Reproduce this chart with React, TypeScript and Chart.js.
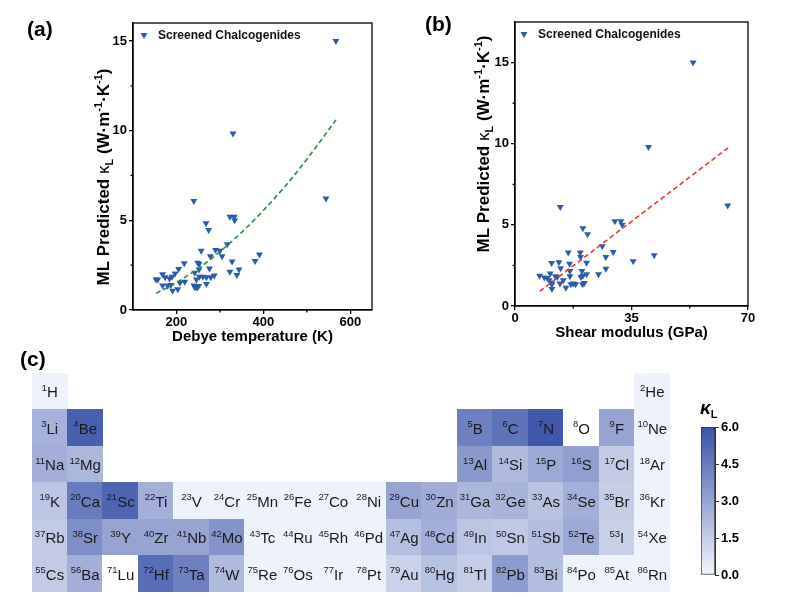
import React, { useEffect, useRef } from 'react';
import { Chart, registerables } from 'chart.js';
Chart.register(...registerables);

const FONT = '"Liberation Sans", Arial, Helvetica, sans-serif';

// ---------- Panel (a): kappa vs Debye temperature ----------
const debyeTemp = [567, 330, 544, 240, 268, 274, 323, 333, 334, 317, 257, 290, 300, 305, 278, 328, 218, 249, 252, 276, 344, 381, 391, 323, 339, 205, 197, 168, 153, 157, 174, 184, 190, 208, 219, 242, 246, 253, 261, 269, 279, 287, 252, 168, 180, 187, 191, 203, 240, 246, 251, 248, 243, 269];
const kappaVsDebye = [15.0, 9.84, 6.22, 6.07, 4.83, 4.46, 5.2, 5.2, 5.0, 3.66, 3.3, 3.34, 3.3, 3.0, 3.0, 2.7, 2.6, 2.64, 2.56, 2.32, 2.26, 2.73, 3.1, 2.13, 1.95, 2.28, 2.04, 2.0, 1.7, 1.7, 1.82, 1.76, 1.86, 1.52, 1.58, 2.08, 1.7, 1.86, 1.86, 1.82, 1.82, 1.93, 2.26, 1.37, 1.35, 1.39, 1.08, 1.15, 1.37, 1.34, 1.34, 1.26, 1.26, 1.45];
const debyeFitX = [153, 200, 250, 300, 350, 400, 450, 500, 567];
const debyeFitY = [0.93, 1.53, 2.31, 3.25, 4.33, 5.55, 6.9, 8.4, 10.6];
const debyeTicksX = [200, 400, 600];
const debyeMinorX = [300, 500];

// ---------- Panel (b): kappa vs shear modulus ----------
const shearMod = [53.5, 40.1, 63.9, 13.6, 20.4, 21.8, 30, 31.8, 32.2, 26.2, 16, 19.6, 29.5, 27.3, 19.7, 35.5, 41.8, 11, 13.2, 16.4, 21.5, 13.7, 27.3, 20.1, 16.5, 25.1, 21.5, 7.4, 8.8, 9.7, 10.6, 12.1, 12.7, 16.5, 19.8, 20.4, 14.5, 10.9, 11.1, 13.5, 16.8, 17.5, 18.2, 20.3, 20.8, 11.1, 15.3, 10.3];
const kappaVsShear = [15.0, 9.8, 6.2, 6.1, 4.79, 4.42, 5.22, 5.22, 5.0, 3.68, 3.29, 3.29, 3.33, 3.02, 3.02, 2.75, 3.12, 2.65, 2.69, 2.61, 2.67, 2.32, 2.3, 2.16, 2.16, 1.95, 1.95, 1.87, 1.75, 1.73, 2.0, 1.83, 1.79, 1.83, 1.79, 1.87, 1.58, 1.42, 1.34, 1.38, 1.34, 1.38, 1.34, 1.34, 1.42, 1.05, 1.13, 1.58];
const shearFitX = [7.4, 64];
const shearFitY = [0.9, 9.74];
const shearTicksX = [0, 35, 70];
const shearMinorX = [17.5, 52.5];

const kappaTicksY = [0, 5, 10, 15];
const kappaMinorY = [2.5, 7.5, 12.5];

// ---------- Panel (c): periodic table ----------
const elementSymbols = ['H', 'He', 'Li', 'Be', 'B', 'C', 'N', 'O', 'F', 'Ne', 'Na', 'Mg', 'Al', 'Si', 'P', 'S', 'Cl', 'Ar', 'K', 'Ca', 'Sc', 'Ti', 'V', 'Cr', 'Mn', 'Fe', 'Co', 'Ni', 'Cu', 'Zn', 'Ga', 'Ge', 'As', 'Se', 'Br', 'Kr', 'Rb', 'Sr', 'Y', 'Zr', 'Nb', 'Mo', 'Tc', 'Ru', 'Rh', 'Pd', 'Ag', 'Cd', 'In', 'Sn', 'Sb', 'Te', 'I', 'Xe', 'Cs', 'Ba', 'Lu', 'Hf', 'Ta', 'W', 'Re', 'Os', 'Ir', 'Pt', 'Au', 'Hg', 'Tl', 'Pb', 'Bi', 'Po', 'At', 'Rn'];
const atomicNumbers = [1, 2, 3, 4, 5, 6, 7, 8, 9, 10, 11, 12, 13, 14, 15, 16, 17, 18, 19, 20, 21, 22, 23, 24, 25, 26, 27, 28, 29, 30, 31, 32, 33, 34, 35, 36, 37, 38, 39, 40, 41, 42, 43, 44, 45, 46, 47, 48, 49, 50, 51, 52, 53, 54, 55, 56, 71, 72, 73, 74, 75, 76, 77, 78, 79, 80, 81, 82, 83, 84, 85, 86];
const elementGroups = [1, 18, 1, 2, 13, 14, 15, 16, 17, 18, 1, 2, 13, 14, 15, 16, 17, 18, 1, 2, 3, 4, 5, 6, 7, 8, 9, 10, 11, 12, 13, 14, 15, 16, 17, 18, 1, 2, 3, 4, 5, 6, 7, 8, 9, 10, 11, 12, 13, 14, 15, 16, 17, 18, 1, 2, 3, 4, 5, 6, 7, 8, 9, 10, 11, 12, 13, 14, 15, 16, 17, 18];
const elementPeriods = [1, 1, 2, 2, 2, 2, 2, 2, 2, 2, 3, 3, 3, 3, 3, 3, 3, 3, 4, 4, 4, 4, 4, 4, 4, 4, 4, 4, 4, 4, 4, 4, 4, 4, 4, 4, 5, 5, 5, 5, 5, 5, 5, 5, 5, 5, 5, 5, 5, 5, 5, 5, 5, 5, 6, 6, 6, 6, 6, 6, 6, 6, 6, 6, 6, 6, 6, 6, 6, 6, 6, 6];
const elementKappa: (number | null)[] = [0.15, 0.15, 2.5, 5.5, 4.3, 4.8, 5.8, null, 3.0, 0.15, 2.6, 2.3, 3.4, 2.2, 2.8, 3.2, 1.6, 0.15, 1.8, 4.5, 5.3, 2.6, 0.15, 0.15, 0.15, 0.15, 0.15, 0.15, 3.0, 2.7, 2.3, 2.4, 1.9, 2.6, 1.5, 0.15, 1.6, 3.8, 3.0, 3.0, 3.0, 3.6, 0.15, 0.15, 0.15, 0.15, 2.0, 2.6, 1.8, 1.7, 2.1, 2.8, 1.4, 0.15, 1.6, 2.6, null, 5.0, 4.3, 2.2, 0.15, 0.15, 0.15, 0.15, 1.3, 1.9, 1.5, 3.3, 2.1, 0.15, 0.15, 0.15];
const colorbarTicks = [0, 1.5, 3, 4.5, 6];
const colorbarRange = [0, 6];
const cmapLow = [243, 246, 252];
const cmapHigh = [58, 82, 168];

const POINT_BLUE = '#2a5cae';

function kappaColor(v: number | null) {
  if (v === null) return '#ffffff';
  const t = Math.max(0, Math.min(1, (v - colorbarRange[0]) / (colorbarRange[1] - colorbarRange[0])));
  const c = cmapLow.map((lo, i) => Math.round(lo + (cmapHigh[i] - lo) * t));
  return `rgb(${c[0]},${c[1]},${c[2]})`;
}

type Seg = { t: string; size: number; dy?: number; style?: string };
function drawRich(ctx: CanvasRenderingContext2D, segs: Seg[], cx: number, cy: number, rot: number, mainSize: number) {
  ctx.save();
  ctx.translate(cx, cy);
  ctx.rotate(rot);
  ctx.textAlign = 'left';
  ctx.textBaseline = 'alphabetic';
  let total = 0;
  const widths = segs.map((s) => {
    ctx.font = `${s.style ?? 'bold'} ${s.size}px ${FONT}`;
    const w = ctx.measureText(s.t).width;
    total += w;
    return w;
  });
  let x = -total / 2;
  const base = mainSize * 0.36;
  segs.forEach((s, i) => {
    ctx.font = `${s.style ?? 'bold'} ${s.size}px ${FONT}`;
    ctx.fillText(s.t, x, base + (s.dy ?? 0));
    x += widths[i];
  });
  ctx.restore();
}

function drawDownTriangle(ctx: CanvasRenderingContext2D, x: number, y: number, r: number) {
  const w = r * Math.sqrt(3) / 2;
  ctx.beginPath();
  ctx.moveTo(x - w, y - r / 2);
  ctx.lineTo(x + w, y - r / 2);
  ctx.lineTo(x, y + r);
  ctx.closePath();
  ctx.fill();
}

const yTitleSegs: Seg[] = [
  { t: 'ML Predicted ', size: 17 },
  { t: 'κ', size: 17, style: 'normal' },
  { t: 'L', size: 11, dy: 4 },
  { t: ' (W·m', size: 17 },
  { t: '-1', size: 11, dy: -7 },
  { t: '·K', size: 17 },
  { t: '-1', size: 11, dy: -7 },
  { t: ')', size: 17 },
];

const panelPlugin = {
  id: 'panelDecor',
  afterDraw(chart: any, _args: any, opts: any) {
    const { ctx, chartArea: ca, scales } = chart;
    ctx.save();
    ctx.strokeStyle = '#000';
    ctx.lineWidth = 1.3;
    ctx.strokeRect(ca.left, ca.top, ca.right - ca.left, ca.bottom - ca.top);
    ctx.beginPath();
    (opts.minorX || []).forEach((v: number) => {
      const px = scales.x.getPixelForValue(v);
      ctx.moveTo(px, ca.bottom);
      ctx.lineTo(px, ca.bottom + 2.5);
    });
    (opts.minorY || []).forEach((v: number) => {
      const py = scales.y.getPixelForValue(v);
      ctx.moveTo(ca.left, py);
      ctx.lineTo(ca.left - 2.5, py);
    });
    ctx.stroke();
    // legend
    ctx.fillStyle = POINT_BLUE;
    drawDownTriangle(ctx, ca.left + opts.legendDx, ca.top + 12, 4);
    ctx.fillStyle = '#111';
    ctx.font = `bold 12px ${FONT}`;
    ctx.textBaseline = 'middle';
    ctx.textAlign = 'left';
    ctx.fillText('Screened Chalcogenides', ca.left + opts.legendDx + 14, ca.top + 13);
    // panel letter
    ctx.fillStyle = '#000';
    ctx.font = `bold 21px ${FONT}`;
    ctx.fillText(opts.letter, opts.letterX, opts.letterY);
    // x title
    ctx.textAlign = 'center';
    ctx.font = `bold 15px ${FONT}`;
    ctx.fillText(opts.xTitle, (ca.left + ca.right) / 2, ca.bottom + 27);
    ctx.restore();
    ctx.fillStyle = '#000';
    drawRich(ctx, yTitleSegs, opts.yTitleX, opts.yTitleY, -Math.PI / 2, 17);
  },
};

function scatterConfig(xs: number[], ys: number[], fx: number[], fy: number[], lineColor: string, xMin: number, xMax: number, yMax: number, xTicks: number[], plugOpts: any, pad: any, yWidth: number, xHeight: number) {
  const tickFont = { family: FONT, size: 13, weight: 'bold' as const };
  return {
    type: 'scatter' as const,
    data: {
      datasets: [
        {
          data: fx.map((x, i) => ({ x, y: fy[i] })),
          showLine: true,
          borderColor: lineColor,
          borderWidth: 1.6,
          borderDash: [5, 3],
          pointRadius: 0,
          tension: 0.4,
          cubicInterpolationMode: 'monotone' as const,
          order: 0,
        },
        {
          data: xs.map((x, i) => ({ x, y: ys[i] })),
          pointStyle: 'triangle',
          rotation: 180,
          pointRadius: 4,
          backgroundColor: POINT_BLUE,
          borderWidth: 0,
          order: 1,
        },
      ],
    },
    options: {
      animation: false as const,
      responsive: false,
      layout: { padding: pad },
      plugins: { legend: { display: false }, tooltip: { enabled: false }, panelDecor: plugOpts },
      scales: {
        x: {
          type: 'linear' as const,
          min: xMin,
          max: xMax,
          afterBuildTicks: (s: any) => { s.ticks = xTicks.map((v) => ({ value: v })); },
          afterFit: (s: any) => { s.height = xHeight; },
          ticks: { font: tickFont, color: '#000', padding: 1, maxRotation: 0, autoSkip: false },
          grid: { display: true, drawOnChartArea: false, drawTicks: true, tickLength: 4, color: '#000', lineWidth: 1.3 },
          border: { display: true, color: '#000', width: 1.3 },
        },
        y: {
          type: 'linear' as const,
          min: 0,
          max: yMax,
          afterBuildTicks: (s: any) => { s.ticks = kappaTicksY.map((v) => ({ value: v })); },
          afterFit: (s: any) => { s.width = yWidth; },
          ticks: { font: tickFont, color: '#000', padding: 2 },
          grid: { display: true, drawOnChartArea: false, drawTicks: true, tickLength: 4, color: '#000', lineWidth: 1.3 },
          border: { display: true, color: '#000', width: 1.3 },
        },
      },
    },
    plugins: [panelPlugin],
  };
}

const tablePlugin = {
  id: 'ptable',
  afterDraw(chart: any) {
    const { ctx, scales } = chart;
    const sx = scales.x;
    const sy = scales.y;
    ctx.save();
    elementSymbols.forEach((_sym, i) => {
      const x0 = Math.floor(sx.getPixelForValue(elementGroups[i] - 1));
      const x1 = Math.ceil(sx.getPixelForValue(elementGroups[i]));
      const y0 = Math.floor(sy.getPixelForValue(elementPeriods[i] - 1));
      const y1 = Math.ceil(sy.getPixelForValue(elementPeriods[i]));
      ctx.fillStyle = kappaColor(elementKappa[i]);
      ctx.fillRect(x0, y0, x1 - x0, y1 - y0);
    });
    elementSymbols.forEach((sym, i) => {
      const cx = (sx.getPixelForValue(elementGroups[i] - 1) + sx.getPixelForValue(elementGroups[i])) / 2;
      const cy = (sy.getPixelForValue(elementPeriods[i] - 1) + sy.getPixelForValue(elementPeriods[i])) / 2;
      const z = String(atomicNumbers[i]);
      ctx.font = `9.5px ${FONT}`;
      const wz = ctx.measureText(z).width;
      ctx.font = `15px ${FONT}`;
      const ws = ctx.measureText(sym).width;
      const start = cx - (wz + ws) / 2;
      ctx.fillStyle = '#1a1a1a';
      ctx.textAlign = 'left';
      ctx.textBaseline = 'alphabetic';
      ctx.font = `9.5px ${FONT}`;
      ctx.fillText(z, start, cy - 0.5);
      ctx.font = `15px ${FONT}`;
      ctx.fillText(sym, start + wz, cy + 6);
    });
    ctx.fillStyle = '#000';
    ctx.font = `bold 21px ${FONT}`;
    ctx.textBaseline = 'middle';
    ctx.fillText('(c)', 20, 15);
    ctx.restore();
  },
};

const colorbarPlugin = {
  id: 'cbTitle',
  afterDraw(chart: any) {
    const { ctx, chartArea: ca } = chart;
    ctx.save();
    ctx.fillStyle = '#000';
    ctx.textAlign = 'left';
    ctx.textBaseline = 'alphabetic';
    ctx.font = `italic bold 19px ${FONT}`;
    const w = ctx.measureText('κ').width;
    ctx.fillText('κ', ca.left - 1, ca.top - 13);
    ctx.font = `bold 11px ${FONT}`;
    ctx.fillText('L', ca.left - 1 + w, ca.top - 9);
    ctx.restore();
  },
};

export default function App() {
  const aRef = useRef<HTMLCanvasElement>(null);
  const bRef = useRef<HTMLCanvasElement>(null);
  const cRef = useRef<HTMLCanvasElement>(null);
  const dRef = useRef<HTMLCanvasElement>(null);

  useEffect(() => {
    const charts: Chart[] = [];
    charts.push(new Chart(aRef.current!, scatterConfig(debyeTemp, kappaVsDebye, debyeFitX, debyeFitY, '#2e8b3a', 100, 650, 16, debyeTicksX,
      { minorX: debyeMinorX, minorY: kappaMinorY, legendDx: 11, letter: '(a)', letterX: 27, letterY: 30, xTitle: 'Debye temperature (K)', yTitleX: 103, yTitleY: 177 },
      { left: 0, right: 21, top: 23, bottom: 0 }, 133, 40) as any));
    charts.push(new Chart(bRef.current!, scatterConfig(shearMod, kappaVsShear, shearFitX, shearFitY, '#e53935', 0, 70, 17.5, shearTicksX,
      { minorX: shearMinorX, minorY: kappaMinorY, legendDx: 9, letter: '(b)', letterX: 32, letterY: 25, xTitle: 'Shear modulus (GPa)', yTitleX: 90, yTitleY: 144 },
      { left: 0, right: 38, top: 22, bottom: 0 }, 122, 44) as any));

    charts.push(new Chart(cRef.current!, {
      type: 'scatter',
      data: { datasets: [{ data: [] }] },
      options: {
        animation: false,
        responsive: false,
        layout: { padding: { left: 32, right: 20, top: 28, bottom: 8 } },
        plugins: { legend: { display: false }, tooltip: { enabled: false } },
        scales: {
          x: { type: 'linear', min: 0, max: 18, display: false },
          y: { type: 'linear', min: 0, max: 6, reverse: true, display: false },
        },
      },
      plugins: [tablePlugin],
    } as any));

    charts.push(new Chart(dRef.current!, {
      type: 'bar',
      data: {
        labels: ['kL'],
        datasets: [{
          data: [[colorbarRange[0], colorbarRange[1]]],
          backgroundColor: (c: any) => {
            const ch = c.chart;
            if (!ch.chartArea) return '#ffffff';
            const ys = ch.scales.y;
            const g = ch.ctx.createLinearGradient(0, ys.getPixelForValue(colorbarRange[0]), 0, ys.getPixelForValue(colorbarRange[1]));
            g.addColorStop(0, kappaColor(colorbarRange[0]));
            g.addColorStop(1, kappaColor(colorbarRange[1]));
            return g;
          },
          borderColor: '#333',
          borderWidth: 1,
          borderSkipped: false,
          barPercentage: 1,
          categoryPercentage: 1,
        }],
      },
      options: {
        animation: false,
        responsive: false,
        layout: { padding: { left: 11, right: 0, top: 32, bottom: 20 } },
        plugins: { legend: { display: false }, tooltip: { enabled: false } },
        scales: {
          x: { display: false },
          y: {
            position: 'right',
            min: colorbarRange[0],
            max: colorbarRange[1],
            afterBuildTicks: (s: any) => { s.ticks = colorbarTicks.map((v) => ({ value: v })); },
            afterFit: (s: any) => { s.width = 71; },
            ticks: { font: { family: FONT, size: 13, weight: 'bold' }, color: '#000', padding: 2, callback: (v: any) => Number(v).toFixed(1) },
            grid: { display: true, drawOnChartArea: false, drawTicks: true, tickLength: 4, color: '#333', lineWidth: 1 },
            border: { display: true, color: '#333', width: 1 },
          },
        },
      },
      plugins: [colorbarPlugin],
    } as any));

    return () => charts.forEach((c) => c.destroy());
  }, []);

  const abs = (l: number, t: number, w: number, h: number): React.CSSProperties => ({ position: 'absolute', left: l, top: t, width: w, height: h });

  return (
    <div style={{ position: 'absolute', left: 0, top: 0, width: 786, height: 600, background: '#fff', overflow: 'hidden' }}>
      <canvas ref={aRef} width={393} height={350} style={abs(0, 0, 393, 350)} />
      <canvas ref={bRef} width={393} height={350} style={abs(393, 0, 393, 350)} />
      <canvas ref={cRef} width={690} height={255} style={abs(0, 345, 690, 255)} />
      <canvas ref={dRef} width={96} height={200} style={abs(690, 395, 96, 200)} />
    </div>
  );
}
